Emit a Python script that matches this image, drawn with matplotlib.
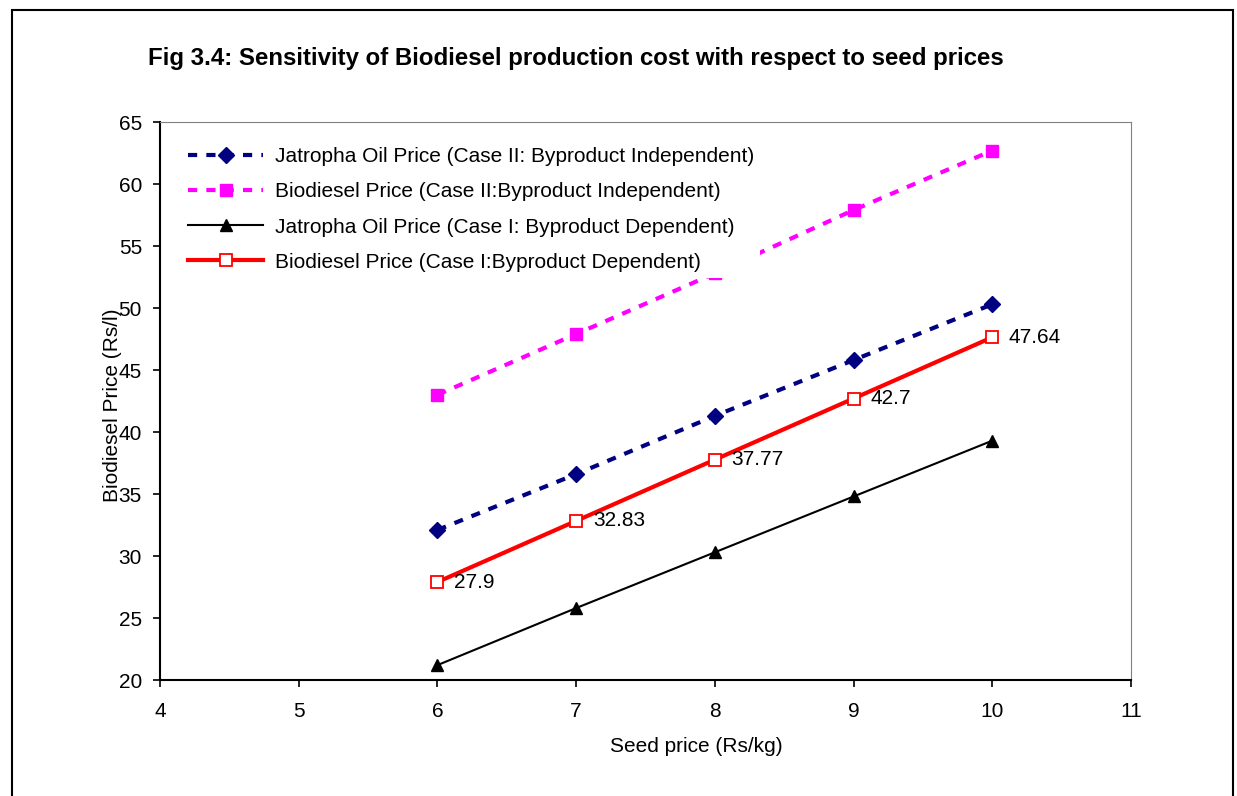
import matplotlib.pyplot as plt
from matplotlib.patches import Rectangle

plt.rcParams['font.family'] = ['Liberation Sans', 'DejaVu Sans']

# data
seed_price = [6, 7, 8, 9, 10]
oil_case2 = [32.1, 36.6, 41.3, 45.8, 50.3]
bio_case2 = [43.0, 47.9, 52.8, 57.9, 62.7]
oil_case1 = [21.2, 25.8, 30.3, 34.8, 39.3]
bio_case1 = [27.9, 32.83, 37.77, 42.7, 47.64]
bio_case1_labels = ["27.9", "32.83", "37.77", "42.7", "47.64"]

fig = plt.figure(figsize=(12.37, 7.96), dpi=100)
ax = fig.add_axes([160 / 1237, 1 - 680 / 796, (1131 - 160) / 1237, (680 - 122) / 796])

# cadre de la figure
fig.patches.append(Rectangle((12 / 1237, -0.05), (1233 - 12) / 1237, 1.05 - 10 / 796,
                             transform=fig.transFigure, fill=False,
                             edgecolor='black', linewidth=1.5))

ax.plot(seed_price, oil_case2, color='#000080', linestyle=(0, (2.2, 2.2)), linewidth=3,
        marker='D', markersize=8, label='Jatropha Oil Price (Case II: Byproduct Independent)')
ax.plot(seed_price, bio_case2, color='#FF00FF', linestyle=(0, (2.2, 2.2)), linewidth=3,
        marker='s', markersize=9, label='Biodiesel Price (Case II:Byproduct Independent)')
ax.plot(seed_price, oil_case1, color='black', linewidth=1.5,
        marker='^', markersize=9, label='Jatropha Oil Price (Case I: Byproduct Dependent)')
ax.plot(seed_price, bio_case1, color='red', linewidth=3,
        marker='s', markersize=9, markerfacecolor='white', markeredgewidth=1.3,
        label='Biodiesel Price (Case I:Byproduct Dependent)')

# étiquettes
for x, y, t in zip(seed_price, bio_case1, bio_case1_labels):
    ax.annotate(t, (x, y), xytext=(12, 0), textcoords='offset points',
                fontsize=15, va='center', ha='left')

ax.set_xlim(4, 11)
ax.set_ylim(20, 65)
ax.set_xticks(range(4, 12))
ax.set_yticks(range(20, 70, 5))
ax.tick_params(labelsize=15, direction='out', length=5, width=1.2)
ax.tick_params(axis='x', pad=11)
ax.tick_params(axis='y', pad=8)

ax.spines['left'].set_linewidth(1.5)
ax.spines['bottom'].set_linewidth(1.5)
ax.spines['top'].set_color('#808080')
ax.spines['right'].set_color('#808080')

ax.set_xlabel('Seed price (Rs/kg)', fontsize=15)
ax.xaxis.set_label_coords((696 - 160) / 971, -(737 - 680) / 558)
ax.set_ylabel('Biodiesel Price (Rs/l)', fontsize=15)
ax.yaxis.set_label_coords(-(160 - 122) / 971, (680 - 405) / 558)

leg = ax.legend(loc='upper left', bbox_to_anchor=(0.012, 0.985), fontsize=15,
                frameon=True, framealpha=1, edgecolor='white', fancybox=False,
                handlelength=3.6, handletextpad=0.55, labelspacing=0.78, borderpad=0.3)
leg.get_frame().set_linewidth(0)

fig.text(148 / 1237, 1 - 58 / 796, 'Fig 3.4: Sensitivity of Biodiesel production cost with respect to seed prices',
         fontsize=17.3, fontweight='bold', va='center', ha='left')

plt.savefig('out.png', dpi=100)
